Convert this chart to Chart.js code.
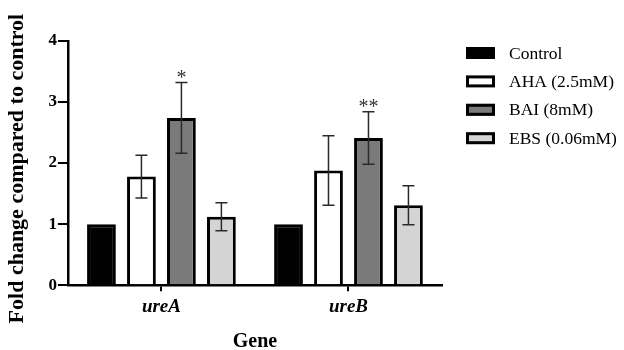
<!DOCTYPE html>
<html>
<head>
<meta charset="utf-8">
<script src="https://cdn.jsdelivr.net/npm/chart.js@4.4.0/dist/chart.umd.min.js"></script>
<style>
  html, body { margin: 0; padding: 0; background: #fff; }
  #wrap { width: 624px; height: 350px; }
</style>
</head>
<body>
<div id="wrap"><canvas id="barChart" width="624" height="350"></canvas></div>
<script>
// data
const genes = ["ureA", "ureB"];
const seriesNames = ["Control", "AHA (2.5mM)", "BAI (8mM)", "EBS (0.06mM)"];
const controlValues = [1.0, 1.0];
const ahaValues = [1.78, 1.88];
const baiValues = [2.74, 2.41];
const ebsValues = [1.12, 1.31];
const controlErr = [0, 0];
const ahaErr = [0.35, 0.57];
const baiErr = [0.58, 0.43];
const ebsErr = [0.23, 0.32];
const baiStars = ["*", "**"];
const yTicks = [0, 1, 2, 3, 4];

const fillColors = ["#000000", "#ffffff", "#7a7a7a", "#d4d4d4"];
const serif = "'Liberation Serif', 'Times New Roman', serif";

function makeSet(i, values, errs, stars) {
  return {
    label: seriesNames[i],
    data: values,
    errors: errs,
    stars: stars || null,
    backgroundColor: fillColors[i],
    borderColor: "#000",
    borderWidth: 3,
    barPercentage: 0.72,
    categoryPercentage: 0.855
  };
}

// error bars, significance stars and the legend on the right
const extras = {
  id: "extras",
  afterDatasetsDraw(chart) {
    const ctx = chart.ctx;
    const y = chart.scales.y;
    ctx.save();
    chart.data.datasets.forEach((ds, i) => {
      const meta = chart.getDatasetMeta(i);
      meta.data.forEach((bar, j) => {
        const v = ds.data[j];
        const e = ds.errors[j];
        if (e > 0) {
          const top = y.getPixelForValue(v + e);
          const bot = y.getPixelForValue(v - e);
          ctx.strokeStyle = "#2a2a2a";
          ctx.lineWidth = 1.5;
          ctx.beginPath();
          ctx.moveTo(bar.x, top); ctx.lineTo(bar.x, bot);
          ctx.moveTo(bar.x - 6, top); ctx.lineTo(bar.x + 6, top);
          ctx.moveTo(bar.x - 6, bot); ctx.lineTo(bar.x + 6, bot);
          ctx.stroke();
        }
        if (ds.stars && ds.stars[j]) {
          ctx.fillStyle = "#333";
          ctx.font = "20px " + serif;
          ctx.textAlign = "center";
          ctx.textBaseline = "middle";
          ctx.fillText(ds.stars[j], bar.x, y.getPixelForValue(v + e) - 4);
        }
      });
    });
    ctx.restore();
  },
  afterDraw(chart) {
    const ctx = chart.ctx;
    ctx.save();
    chart.data.datasets.forEach((ds, i) => {
      const cy = 53 + i * 28.4;
      ctx.fillStyle = ds.backgroundColor;
      ctx.fillRect(466, cy - 6, 29, 12);
      ctx.strokeStyle = "#000";
      ctx.lineWidth = 3;
      ctx.strokeRect(467.5, cy - 4.5, 26, 9);
      ctx.fillStyle = "#000";
      ctx.font = "17.5px " + serif;
      ctx.textAlign = "left";
      ctx.textBaseline = "middle";
      ctx.fillText(ds.label, 509, cy + 1);
    });
    ctx.restore();
  }
};

const ctx = document.getElementById("barChart").getContext("2d");
window.myChart = new Chart(ctx, {
  type: "bar",
  data: {
    labels: genes,
    datasets: [
      makeSet(0, controlValues, controlErr),
      makeSet(1, ahaValues, ahaErr),
      makeSet(2, baiValues, baiErr, baiStars),
      makeSet(3, ebsValues, ebsErr)
    ]
  },
  options: {
    responsive: false,
    animation: false,
    layout: { padding: { top: 41, right: 182, left: 0, bottom: -8 } },
    plugins: {
      legend: { display: false },
      tooltip: { enabled: false }
    },
    scales: {
      x: {
        grid: { display: true, drawOnChartArea: false, offset: false, tickLength: 6, color: "#000", lineWidth: 2 },
        border: { color: "#000", width: 2.5 },
        ticks: { color: "#000", font: { family: serif, size: 19, weight: "bold", style: "italic" }, padding: 4 },
        title: { display: true, text: "Gene", color: "#000", font: { family: serif, size: 20, weight: "bold" }, padding: { top: 8 } }
      },
      y: {
        min: 0,
        max: 4,
        afterBuildTicks: (axis) => { axis.ticks = yTicks.map(v => ({ value: v })); },
        grid: { display: true, drawOnChartArea: false, tickLength: 10, color: "#000", lineWidth: 2 },
        border: { color: "#000", width: 2.5 },
        ticks: { color: "#000", font: { family: serif, size: 17, weight: "bold" }, padding: 1 },
        title: { display: true, text: "Fold change compared to control  ", color: "#000", font: { family: serif, size: 22, weight: "bold" }, padding: { bottom: 17 } }
      }
    }
  },
  plugins: [extras]
});
</script>
</body>
</html>
